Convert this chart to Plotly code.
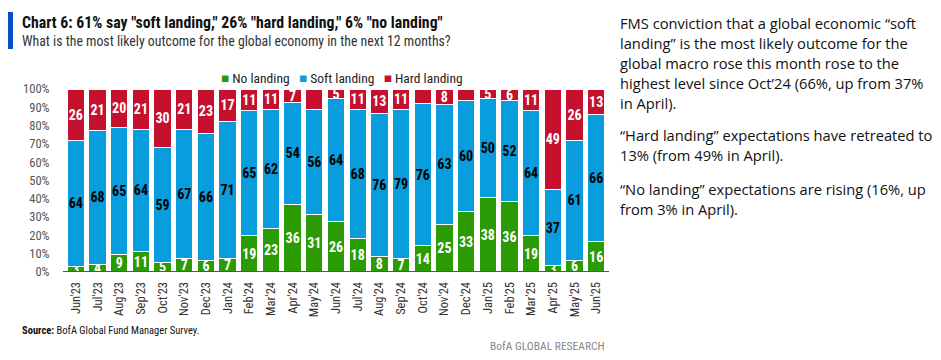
import plotly.graph_objects as go

months = ["Jun'23","Jul'23","Aug'23","Sep'23","Oct'23","Nov'23","Dec'23","Jan'24",
          "Feb'24","Mar'24","Apr'24","May'24","Jun'24","Jul'24","Aug'24","Sep'24",
          "Oct'24","Nov'24","Dec'24","Jan'25","Feb'25","Mar'25","Apr'25","May'25","Jun'25"]
no_landing = [3,4,9,11,5,7,6,7,19,23,36,31,26,18,8,7,14,25,33,38,36,19,3,6,16]
soft_landing = [64,68,65,64,59,67,66,71,65,62,54,56,64,68,76,79,76,63,60,50,52,64,37,61,66]
hard_landing = [26,21,20,21,30,21,23,17,11,11,7,11,5,11,13,11,8,8,6,5,6,11,49,26,13]
y_ticks = [0,10,20,30,40,50,60,70,80,90,100]
y_tick_labels = [f"{v}%" for v in y_ticks]

GREEN = "#2a9a05"
BLUE = "#0a9ddd"
RED = "#c5102e"
NARROW = "Liberation Sans Narrow, Roboto Condensed, Arial Narrow, Roboto, sans-serif"
BODY = "Open Sans, Noto Sans, sans-serif"

fig = go.Figure()
series = [("No landing", no_landing, GREEN, "white"),
          ("Soft landing", soft_landing, BLUE, "black"),
          ("Hard landing", hard_landing, RED, "white")]
for name, vals, col, tcol in series:
    fig.add_trace(go.Bar(
        x=months, y=vals, name=name,
        marker=dict(color=col, line=dict(color="white", width=1)),
        text=[f"<b>{v}</b>" for v in vals], texttemplate="%{text}",
        textposition="inside", insidetextanchor="middle", textangle=0,
        textfont=dict(color=tcol, size=14, family=NARROW),
        constraintext="none", cliponaxis=False, showlegend=False,
    ))

fig.update_layout(
    width=941, height=360,
    margin=dict(l=0, r=0, t=0, b=0, autoexpand=False),
    paper_bgcolor="white", plot_bgcolor="white",
    barmode="stack", barnorm="percent", bargap=0.2,
    uniformtext=dict(minsize=14, mode="show"),
    xaxis=dict(domain=[65/941, 607/941], range=[-0.5, 24.5], type="category",
               tickangle=-90, tickfont=dict(family=NARROW, size=12.5, color="#333"),
               showline=False, showgrid=False, ticks="outside", ticklen=4,
               tickcolor="rgba(0,0,0,0)"),
    yaxis=dict(domain=[88/360, 271/360], range=[0, 100], tickvals=y_ticks,
               ticktext=y_tick_labels, showgrid=False, zeroline=False,
               tickfont=dict(family=NARROW, size=12.5, color="#555"),
               ticks="outside", ticklen=12, tickcolor="rgba(0,0,0,0)"),
)

# legend drawn as text keyed to the series colours
legend_txt = "&nbsp;&nbsp;&nbsp;".join(
    f"<span style='color:{col}'>\u25a0</span> {name}" for name, _, col, _ in series)
fig.add_annotation(xref="paper", yref="paper", x=219/941, y=1-78/360, xanchor="left",
                   yanchor="middle", text=legend_txt, showarrow=False,
                   font=dict(family=NARROW, size=13.5, color="#222"))

# axis baseline
fig.add_shape(type="line", xref="paper", yref="y", x0=63/941, x1=609/941, y0=0, y1=0,
              line=dict(color="#555", width=2))
# title accent bar
fig.add_shape(type="rect", xref="paper", yref="paper", x0=8/941, x1=13/941,
              y0=1-49/360, y1=1-12/360, fillcolor="#0a4fc4", line=dict(width=0))

fig.add_annotation(xref="paper", yref="paper", x=20/941, y=1-22/360, xanchor="left", yanchor="middle",
                   text="<b>Chart 6: 61% say \"soft landing,\" 26% \"hard landing,\" 6% \"no landing\"</b>",
                   showarrow=False, font=dict(family=NARROW, size=15.8, color="#111"))
fig.add_annotation(xref="paper", yref="paper", x=20/941, y=1-41/360, xanchor="left", yanchor="middle",
                   text="What is the most likely outcome for the global economy in the next 12 months?",
                   showarrow=False, font=dict(family=NARROW, size=13.8, color="#333"))
fig.add_annotation(xref="paper", yref="paper", x=20/941, y=1-330/360, xanchor="left", yanchor="middle",
                   text="<b>Source:</b> BofA Global Fund Manager Survey.",
                   showarrow=False, font=dict(family=NARROW, size=10.5, color="#111"))
fig.add_annotation(xref="paper", yref="paper", x=607/941, y=1-346/360, xanchor="right", yanchor="middle",
                   text="BofA GLOBAL RESEARCH",
                   showarrow=False, font=dict(family=NARROW, size=11.5, color="#888"))

side_lines = [
    ("FMS conviction that a global economic \u201csoft", 23),
    ("landing\u201d is the most likely outcome for the", 43),
    ("global macro rose this month rose to the", 63),
    ("highest level since Oct\u201924 (66%, up from 37%", 83),
    ("in April).", 103),
    ("\u201cHard landing\u201d expectations have retreated to", 135),
    ("13% (from 49% in April).", 155),
    ("\u201cNo landing\u201d expectations are rising (16%, up", 189),
    ("from 3% in April).", 209),
]
for txt, yy in side_lines:
    fig.add_annotation(xref="paper", yref="paper", x=618/941, y=1-yy/360, xanchor="left",
                       yanchor="middle", text=txt, showarrow=False,
                       font=dict(family=BODY, size=14.7, color="#111"))

fig.write_html("out.html", config={"displayModeBar": False},
               post_script="document.body.style.margin='0';document.body.style.overflow='hidden';")
